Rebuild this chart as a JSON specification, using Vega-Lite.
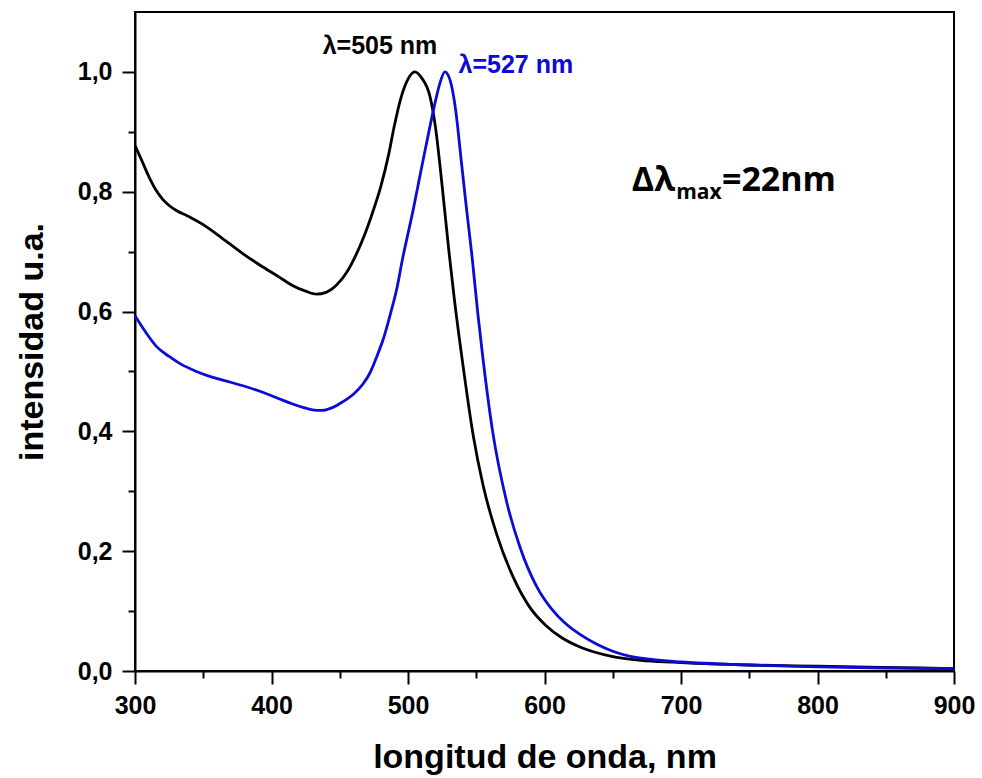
{
  "$schema": "https://vega.github.io/schema/vega-lite/v6.json",
  "width": 819,
  "height": 659,
  "autosize": "none",
  "padding": {"left": 135, "top": 12, "right": 28, "bottom": 107},
  "background": "white",
  "config": {
    "view": {"stroke": "black", "strokeWidth": 2},
    "font": "Liberation Sans",
    "axis": {
      "grid": false,
      "domainColor": "black",
      "domainWidth": 2,
      "tickColor": "black",
      "tickWidth": 2,
      "tickSize": 13,
      "labelFont": "Liberation Sans",
      "labelFontWeight": "bold",
      "labelFontSize": 25,
      "labelColor": "black",
      "titleFont": "Liberation Sans",
      "titleFontWeight": "bold",
      "titleFontSize": 34,
      "titleColor": "black"
    }
  },
  "datasets": {
    "spectra": [
      {"wavelength": 300, "intensity": 0.877, "series": "505"},
      {"wavelength": 305, "intensity": 0.852, "series": "505"},
      {"wavelength": 310, "intensity": 0.826, "series": "505"},
      {"wavelength": 315, "intensity": 0.804, "series": "505"},
      {"wavelength": 320, "intensity": 0.788, "series": "505"},
      {"wavelength": 325, "intensity": 0.777, "series": "505"},
      {"wavelength": 330, "intensity": 0.769, "series": "505"},
      {"wavelength": 340, "intensity": 0.758, "series": "505"},
      {"wavelength": 350, "intensity": 0.745, "series": "505"},
      {"wavelength": 360, "intensity": 0.729, "series": "505"},
      {"wavelength": 370, "intensity": 0.712, "series": "505"},
      {"wavelength": 380, "intensity": 0.695, "series": "505"},
      {"wavelength": 394, "intensity": 0.674, "series": "505"},
      {"wavelength": 406, "intensity": 0.657, "series": "505"},
      {"wavelength": 415, "intensity": 0.644, "series": "505"},
      {"wavelength": 425, "intensity": 0.634, "series": "505"},
      {"wavelength": 433, "intensity": 0.629, "series": "505"},
      {"wavelength": 440, "intensity": 0.632, "series": "505"},
      {"wavelength": 448, "intensity": 0.645, "series": "505"},
      {"wavelength": 455, "intensity": 0.665, "series": "505"},
      {"wavelength": 462, "intensity": 0.695, "series": "505"},
      {"wavelength": 468, "intensity": 0.727, "series": "505"},
      {"wavelength": 474, "intensity": 0.765, "series": "505"},
      {"wavelength": 480, "intensity": 0.808, "series": "505"},
      {"wavelength": 486, "intensity": 0.864, "series": "505"},
      {"wavelength": 490, "intensity": 0.910, "series": "505"},
      {"wavelength": 495, "intensity": 0.958, "series": "505"},
      {"wavelength": 500, "intensity": 0.988, "series": "505"},
      {"wavelength": 505, "intensity": 1.000, "series": "505"},
      {"wavelength": 510, "intensity": 0.990, "series": "505"},
      {"wavelength": 516, "intensity": 0.960, "series": "505"},
      {"wavelength": 520, "intensity": 0.910, "series": "505"},
      {"wavelength": 525, "intensity": 0.810, "series": "505"},
      {"wavelength": 530, "intensity": 0.700, "series": "505"},
      {"wavelength": 534, "intensity": 0.620, "series": "505"},
      {"wavelength": 540, "intensity": 0.515, "series": "505"},
      {"wavelength": 548, "intensity": 0.390, "series": "505"},
      {"wavelength": 555, "intensity": 0.310, "series": "505"},
      {"wavelength": 565, "intensity": 0.228, "series": "505"},
      {"wavelength": 577, "intensity": 0.157, "series": "505"},
      {"wavelength": 589, "intensity": 0.107, "series": "505"},
      {"wavelength": 601, "intensity": 0.076, "series": "505"},
      {"wavelength": 613, "intensity": 0.055, "series": "505"},
      {"wavelength": 626, "intensity": 0.040, "series": "505"},
      {"wavelength": 650, "intensity": 0.024, "series": "505"},
      {"wavelength": 675, "intensity": 0.017, "series": "505"},
      {"wavelength": 700, "intensity": 0.014, "series": "505"},
      {"wavelength": 750, "intensity": 0.010, "series": "505"},
      {"wavelength": 800, "intensity": 0.008, "series": "505"},
      {"wavelength": 850, "intensity": 0.006, "series": "505"},
      {"wavelength": 900, "intensity": 0.004, "series": "505"},
      {"wavelength": 300, "intensity": 0.593, "series": "527"},
      {"wavelength": 308, "intensity": 0.565, "series": "527"},
      {"wavelength": 316, "intensity": 0.541, "series": "527"},
      {"wavelength": 325, "intensity": 0.525, "series": "527"},
      {"wavelength": 333, "intensity": 0.513, "series": "527"},
      {"wavelength": 345, "intensity": 0.500, "series": "527"},
      {"wavelength": 357, "intensity": 0.490, "series": "527"},
      {"wavelength": 370, "intensity": 0.482, "series": "527"},
      {"wavelength": 382, "intensity": 0.474, "series": "527"},
      {"wavelength": 395, "intensity": 0.464, "series": "527"},
      {"wavelength": 406, "intensity": 0.454, "series": "527"},
      {"wavelength": 415, "intensity": 0.446, "series": "527"},
      {"wavelength": 423, "intensity": 0.440, "series": "527"},
      {"wavelength": 430, "intensity": 0.436, "series": "527"},
      {"wavelength": 437, "intensity": 0.435, "series": "527"},
      {"wavelength": 445, "intensity": 0.440, "series": "527"},
      {"wavelength": 452, "intensity": 0.449, "series": "527"},
      {"wavelength": 460, "intensity": 0.462, "series": "527"},
      {"wavelength": 467, "intensity": 0.479, "series": "527"},
      {"wavelength": 472, "intensity": 0.497, "series": "527"},
      {"wavelength": 477, "intensity": 0.524, "series": "527"},
      {"wavelength": 482, "intensity": 0.555, "series": "527"},
      {"wavelength": 487, "intensity": 0.595, "series": "527"},
      {"wavelength": 492, "intensity": 0.640, "series": "527"},
      {"wavelength": 496, "intensity": 0.688, "series": "527"},
      {"wavelength": 500, "intensity": 0.730, "series": "527"},
      {"wavelength": 504, "intensity": 0.772, "series": "527"},
      {"wavelength": 508, "intensity": 0.818, "series": "527"},
      {"wavelength": 511, "intensity": 0.852, "series": "527"},
      {"wavelength": 516, "intensity": 0.908, "series": "527"},
      {"wavelength": 519, "intensity": 0.940, "series": "527"},
      {"wavelength": 523, "intensity": 0.978, "series": "527"},
      {"wavelength": 527, "intensity": 1.000, "series": "527"},
      {"wavelength": 531, "intensity": 0.985, "series": "527"},
      {"wavelength": 535, "intensity": 0.935, "series": "527"},
      {"wavelength": 539, "intensity": 0.852, "series": "527"},
      {"wavelength": 543, "intensity": 0.769, "series": "527"},
      {"wavelength": 547, "intensity": 0.690, "series": "527"},
      {"wavelength": 551, "intensity": 0.600, "series": "527"},
      {"wavelength": 555, "intensity": 0.520, "series": "527"},
      {"wavelength": 562, "intensity": 0.400, "series": "527"},
      {"wavelength": 572, "intensity": 0.285, "series": "527"},
      {"wavelength": 582, "intensity": 0.207, "series": "527"},
      {"wavelength": 594, "intensity": 0.142, "series": "527"},
      {"wavelength": 605, "intensity": 0.104, "series": "527"},
      {"wavelength": 615, "intensity": 0.080, "series": "527"},
      {"wavelength": 626, "intensity": 0.061, "series": "527"},
      {"wavelength": 638, "intensity": 0.045, "series": "527"},
      {"wavelength": 650, "intensity": 0.033, "series": "527"},
      {"wavelength": 662, "intensity": 0.025, "series": "527"},
      {"wavelength": 680, "intensity": 0.019, "series": "527"},
      {"wavelength": 700, "intensity": 0.015, "series": "527"},
      {"wavelength": 750, "intensity": 0.010, "series": "527"},
      {"wavelength": 800, "intensity": 0.007, "series": "527"},
      {"wavelength": 850, "intensity": 0.005, "series": "527"},
      {"wavelength": 900, "intensity": 0.004, "series": "527"}
    ],
    "labels": [
      {"wavelength": 479.5, "intensity": 1.03, "label": "λ=505 nm", "series": "505"},
      {"wavelength": 579, "intensity": 0.999, "label": "λ=527 nm", "series": "527"}
    ],
    "delta": [
      {"wavelength": 664, "intensity": 0.802, "label": "Δλ"},
      {"wavelength": 730, "intensity": 0.802, "label": "=22nm"}
    ],
    "sub": [
      {"wavelength": 696.5, "intensity": 0.788, "label": "max"}
    ]
  },
  "layer": [
    {
      "data": {"name": "spectra"},
      "mark": {"type": "line", "strokeWidth": 2.8, "interpolate": "monotone"},
      "encoding": {
        "x": {
          "field": "wavelength", "type": "quantitative",
          "scale": {"domain": [300, 900], "nice": false, "zero": false},
          "axis": {"orient": "bottom", "values": [300, 400, 500, 600, 700, 800, 900], "title": "longitud de onda, nm", "labelPadding": 9, "titlePadding": 22, "labelFlush": false}
        },
        "y": {
          "field": "intensity", "type": "quantitative",
          "scale": {"domain": [0, 1.1], "nice": false},
          "axis": {"orient": "left", "values": [0, 0.2, 0.4, 0.6, 0.8, 1.0], "labelExpr": "replace(format(datum.value, '.1f'), '.', ',')", "title": "intensidad u.a.", "labelPadding": 10, "titlePadding": 28, "labelFlush": false}
        },
        "color": {
          "field": "series", "type": "nominal",
          "scale": {"domain": ["505", "527"], "range": ["#000000", "#0b0bd8"]},
          "legend": null
        }
      }
    },
    {
      "data": {"name": "spectra"},
      "mark": {"type": "line", "opacity": 0},
      "encoding": {
        "x": {
          "field": "wavelength", "type": "quantitative",
          "axis": {"orient": "bottom", "values": [350, 450, 550, 650, 750, 850], "labels": false, "tickSize": 7, "domain": false, "title": null}
        },
        "y": {
          "field": "intensity", "type": "quantitative",
          "axis": {"orient": "left", "values": [0.1, 0.3, 0.5, 0.7, 0.9], "labels": false, "tickSize": 7, "domain": false, "title": null}
        }
      }
    },
    {
      "data": {"name": "labels"},
      "mark": {"type": "text", "font": "Liberation Sans", "fontWeight": "bold", "fontSize": 25, "align": "center", "baseline": "alphabetic"},
      "encoding": {
        "x": {"field": "wavelength", "type": "quantitative", "axis": null},
        "y": {"field": "intensity", "type": "quantitative", "axis": null},
        "text": {"field": "label"},
        "color": {"field": "series", "type": "nominal", "legend": null}
      }
    },
    {
      "data": {"name": "delta"},
      "mark": {"type": "text", "font": "Open Sans", "fontWeight": "bold", "fontSize": 34, "align": "left", "baseline": "alphabetic", "color": "black"},
      "encoding": {
        "x": {"field": "wavelength", "type": "quantitative", "axis": null},
        "y": {"field": "intensity", "type": "quantitative", "axis": null},
        "text": {"field": "label"}
      }
    },
    {
      "data": {"name": "sub"},
      "mark": {"type": "text", "font": "Open Sans", "fontWeight": "bold", "fontSize": 21, "align": "left", "baseline": "alphabetic", "color": "black"},
      "encoding": {
        "x": {"field": "wavelength", "type": "quantitative", "axis": null},
        "y": {"field": "intensity", "type": "quantitative", "axis": null},
        "text": {"field": "label"}
      }
    }
  ],
  "resolve": {"axis": {"x": "independent", "y": "independent"}}
}
